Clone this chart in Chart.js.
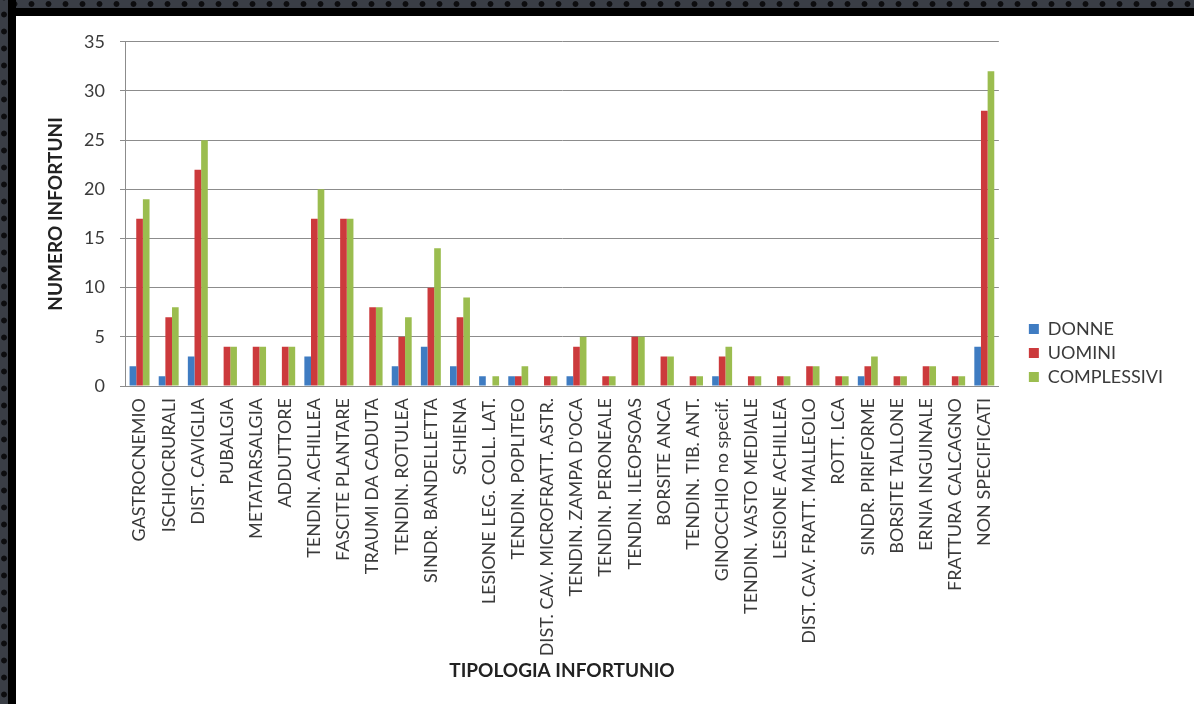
<!DOCTYPE html>
<html>
<head>
<meta charset="utf-8">
<script src="https://cdn.jsdelivr.net/npm/chart.js@4.4.1/dist/chart.umd.min.js"></script>
<style>
  html, body { margin: 0; padding: 0; background: #fff; }
  body { width: 1194px; height: 704px; position: relative; overflow: hidden; }
  /* dark studded frame along the top and left edges */
  .frame-top, .frame-left { position: absolute; background: #000; }
  .frame-top { left: 0; top: 0; width: 1194px; height: 16px; }
  .frame-left { left: 0; top: 0; width: 16px; height: 704px; }
  .frame-top::before, .frame-left::before {
    content: ""; position: absolute; left: 0; top: 0;
    background-color: #3a3e46;
    background-image: radial-gradient(circle, #0d0d0f 2.4px, rgba(0,0,0,0) 3.4px);
  }
  .frame-top::before { width: 100%; height: 8px; background-size: 17px 8px; background-position: 6px 0; }
  .frame-left::before { width: 8px; height: 100%; background-size: 8px 17px; background-position: 0 6px; }
  #wrap { position: absolute; left: 16px; top: 16px; width: 1178px; height: 688px; }
</style>
</head>
<body>
<div class="frame-top"></div>
<div class="frame-left"></div>
<div id="wrap"><canvas id="bar-chart" width="1178" height="688"></canvas></div>
<script>
const categories = [
  "GASTROCNEMIO", "ISCHIOCRURALI", "DIST. CAVIGLIA", "PUBALGIA", "METATARSALGIA",
  "ADDUTTORE", "TENDIN. ACHILLEA", "FASCITE PLANTARE", "TRAUMI DA CADUTA", "TENDIN. ROTULEA",
  "SINDR. BANDELLETTA", "SCHIENA", "LESIONE LEG. COLL. LAT.", "TENDIN. POPLITEO", "DIST. CAV. MICROFRATT. ASTR.",
  "TENDIN. ZAMPA D'OCA", "TENDIN. PERONEALE", "TENDIN. ILEOPSOAS", "BORSITE ANCA", "TENDIN. TIB. ANT.",
  "GINOCCHIO no specif.", "TENDIN. VASTO MEDIALE", "LESIONE ACHILLEA", "DIST. CAV. FRATT. MALLEOLO", "ROTT. LCA",
  "SINDR. PIRIFORME", "BORSITE TALLONE", "ERNIA INGUINALE", "FRATTURA CALCAGNO", "NON SPECIFICATI"
];
const donne       = [2, 1, 3, 0, 0, 0, 3, 0, 0, 2, 4, 2, 1, 1, 0, 1, 0, 0, 0, 0, 1, 0, 0, 0, 0, 1, 0, 0, 0, 4];
const uomini      = [17, 7, 22, 4, 4, 4, 17, 17, 8, 5, 10, 7, 0, 1, 1, 4, 1, 5, 3, 1, 3, 1, 1, 2, 1, 2, 1, 2, 1, 28];
const complessivi = [19, 8, 25, 4, 4, 4, 20, 17, 8, 7, 14, 9, 1, 2, 1, 5, 1, 5, 3, 1, 4, 1, 1, 2, 1, 3, 1, 2, 1, 32];
const yTicks = [0, 5, 10, 15, 20, 25, 30, 35];

const textColor = "#3a3a3a";
const gridColor = "#8c8c8c";
const fontFamily = "Lato, 'Open Sans', sans-serif";

const barChart = document.getElementById("bar-chart").getContext("2d");

let chart = new Chart(barChart, {
    type: 'bar',
    data: {
        labels: categories,
        datasets: [{
            label: "DONNE",
            backgroundColor: "#3f7cc2",
            data: donne
        },
        {
            label: "UOMINI",
            backgroundColor: "#cc3a3c",
            data: uomini
        },
        {
            label: "COMPLESSIVI",
            backgroundColor: "#9bbd4f",
            data: complessivi
        }]
    },
    options: {
        responsive: false,
        animation: false,
        layout: {
            padding: { top: 24, right: 21, bottom: 38, left: 0 }
        },
        datasets: {
            bar: { categoryPercentage: 0.685, barPercentage: 1.0 }
        },
        plugins: {
            tooltip: { enabled: false },
            legend: {
                position: 'right',
                align: 'center',
                labels: {
                    color: textColor,
                    boxWidth: 10,
                    boxHeight: 10,
                    padding: 6,
                    font: { family: fontFamily, size: 18 }
                }
            }
        },
        scales: {
            x: {
                grid: { display: false },
                border: { display: true, color: gridColor, width: 1 },
                ticks: {
                    color: textColor,
                    autoSkip: false,
                    minRotation: 90,
                    maxRotation: 90,
                    padding: 4,
                    font: { family: fontFamily, size: 18 }
                },
                title: {
                    display: true,
                    text: "TIPOLOGIA INFORTUNIO",
                    color: "#222",
                    padding: { top: 0, bottom: -16 },
                    font: { family: fontFamily, size: 19, weight: 'bold' }
                },
                afterFit: s => { s.height = 280; }
            },
            y: {
                min: 0,
                max: 35,
                afterBuildTicks: s => { s.ticks = yTicks.map(v => ({ value: v })); },
                grid: { color: gridColor, lineWidth: 1, drawTicks: true, tickLength: 5 },
                border: { display: true, color: gridColor, width: 1 },
                ticks: {
                    color: textColor,
                    padding: 15,
                    font: { family: fontFamily, size: 18 }
                },
                title: {
                    display: true,
                    text: "NUMERO INFORTUNI",
                    color: "#222",
                    padding: { top: 28, bottom: 0 },
                    font: { family: fontFamily, size: 19, weight: 'bold' }
                },
                afterFit: s => { s.width = 109; }
            },
            // empty right-hand strip that keeps the legend clear of the plot
            gap: {
                position: 'right',
                display: true,
                grid: { display: false, drawTicks: false },
                border: { display: false },
                ticks: { display: false },
                afterFit: s => { s.width = 24; }
            }
        }
    }
});
</script>
</body>
</html>
